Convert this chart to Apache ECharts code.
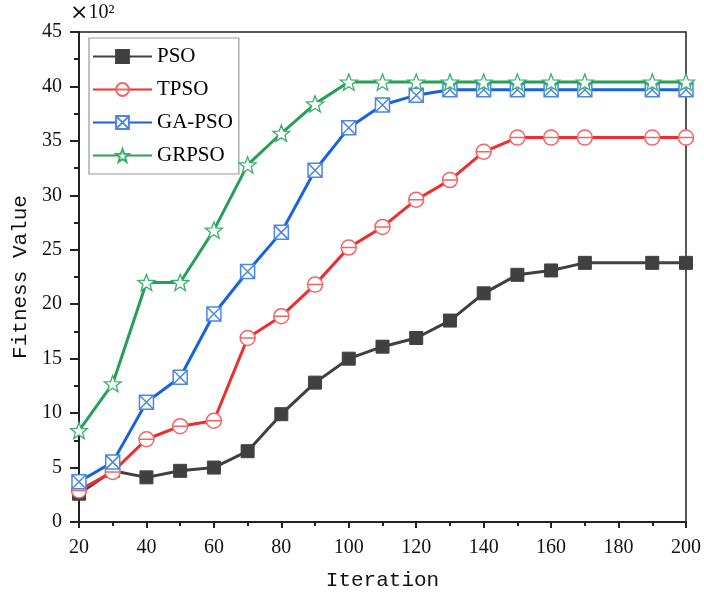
<!DOCTYPE html>
<html>
<head>
<meta charset="utf-8">
<script src="https://cdn.jsdelivr.net/npm/echarts@6/dist/echarts.min.js"></script>
<style>html,body{margin:0;padding:0;background:#fff}#c{width:704px;height:599px}</style>
</head>
<body>
<div id="c"></div>
<script>
const iterations = [20,30,40,50,60,70,80,90,100,110,120,130,140,150,160,170,190,200];
const pso    = [2.6,4.7,4.1,4.7,5.0,6.5,9.9,12.8,15.0,16.1,16.9,18.5,21.0,22.7,23.1,23.8,23.8,23.8];
const tpso   = [2.9,4.6,7.6,8.8,9.3,16.9,18.9,21.8,25.2,27.1,29.6,31.4,34.0,35.3,35.3,35.3,35.3,35.3];
const gapso  = [3.7,5.5,11.0,13.3,19.1,23.0,26.6,32.3,36.2,38.3,39.2,39.7,39.7,39.7,39.7,39.7,39.7,39.7];
const grpso  = [8.4,12.7,22.0,22.0,26.8,32.8,35.7,38.4,40.4,40.4,40.4,40.4,40.4,40.4,40.4,40.4,40.4,40.4];
const seriesNames = ['PSO','TPSO','GA-PSO','GRPSO'];
const xTicks = [20,40,60,80,100,120,140,160,180,200];
const yTicks = [0,5,10,15,20,25,30,35,40,45];

const pair = arr => iterations.map((x,i)=>[x,arr[i]]);
const starPath = 'path://M10,0L12.47,6.6L19.51,6.91L14,11.3L15.88,18.09L10,14.2L4.12,18.09L6,11.3L0.49,6.91L7.53,6.6Z';
const boxX = 'path://M0,0L20,0L20,20L0,20Z M0,0L20,20 M20,0L0,20';
const circLine = 'path://M0,10A10,10 0 1 1 20,10A10,10 0 1 1 0,10Z M0,10L20,10';
const serif = 'Liberation Serif';

const chart = echarts.init(document.getElementById('c'), null, {renderer:'canvas'});
chart.setOption({
  animation:false,
  backgroundColor:'#fff',
  grid:{left:79,right:18,top:32,bottom:77,show:true,borderColor:'#222',borderWidth:1.5,backgroundColor:'transparent'},
  graphic:[{type:'text',left:70,top:2,style:{
    text:'{a|×}{b|10²}',
    rich:{a:{fontFamily:'DejaVu Sans',fontSize:22,fill:'#111',color:'#111'},
          b:{fontFamily:serif,fontSize:20,fill:'#111',color:'#111'}}}}],
  legend:{
    orient:'vertical',left:89,top:38,
    padding:[8,6,8,3],
    itemWidth:59,itemHeight:16,itemGap:12,
    borderColor:'#999',borderWidth:1.2,borderRadius:0,backgroundColor:'#fff',
    textStyle:{fontFamily:serif,fontSize:21,color:'#000'},
    data:seriesNames
  },
  xAxis:{
    type:'value',min:20,max:200,interval:20,
    name:'Iteration',nameLocation:'middle',nameGap:48,
    nameTextStyle:{fontFamily:'Liberation Mono',fontSize:21,color:'#111'},
    axisLine:{lineStyle:{color:'#222',width:2}},
    axisTick:{show:true,inside:false,length:6,lineStyle:{color:'#222',width:2}},
    minorTick:{show:true,splitNumber:2,length:4,lineStyle:{color:'#222',width:2}},
    splitLine:{show:false},
    axisLabel:{margin:16,fontFamily:serif,fontSize:20,color:'#111',
      formatter:v=>xTicks.includes(v)?String(v):''}
  },
  yAxis:{
    type:'value',min:0,max:45,interval:5,
    name:'Fitness Value',nameLocation:'middle',nameGap:46,
    nameTextStyle:{fontFamily:'Liberation Mono',fontSize:21,color:'#111'},
    axisLine:{show:true,lineStyle:{color:'#222',width:2}},
    axisTick:{show:true,inside:false,length:9,lineStyle:{color:'#222',width:2}},
    minorTick:{show:true,splitNumber:2,length:5,lineStyle:{color:'#222',width:2}},
    splitLine:{show:false},
    axisLabel:{margin:17,fontFamily:serif,fontSize:20,color:'#111',
      formatter:v=>yTicks.includes(v)?String(v):''}
  },
  series:[
    {name:'PSO',type:'line',data:pair(pso),symbol:'rect',symbolSize:13,
     lineStyle:{color:'#404040',width:3},itemStyle:{color:'#404040',borderColor:'#404040',borderWidth:1},z:2},
    {name:'TPSO',type:'line',data:pair(tpso),symbol:circLine,symbolSize:15,
     lineStyle:{color:'#ef2d2d',width:3},itemStyle:{color:'#fff',borderColor:'#f26565',borderWidth:1.5},z:3},
    {name:'GA-PSO',type:'line',data:pair(gapso),symbol:boxX,symbolSize:14,
     lineStyle:{color:'#1763d8',width:3},itemStyle:{color:'#fff',borderColor:'#4a86e6',borderWidth:1.5},z:4},
    {name:'GRPSO',type:'line',data:pair(grpso),symbol:starPath,symbolSize:17,symbolKeepAspect:true,
     lineStyle:{color:'#25a057',width:3},itemStyle:{color:'#fff',borderColor:'#35b066',borderWidth:1.3},z:5}
  ]
});
</script>
</body>
</html>
